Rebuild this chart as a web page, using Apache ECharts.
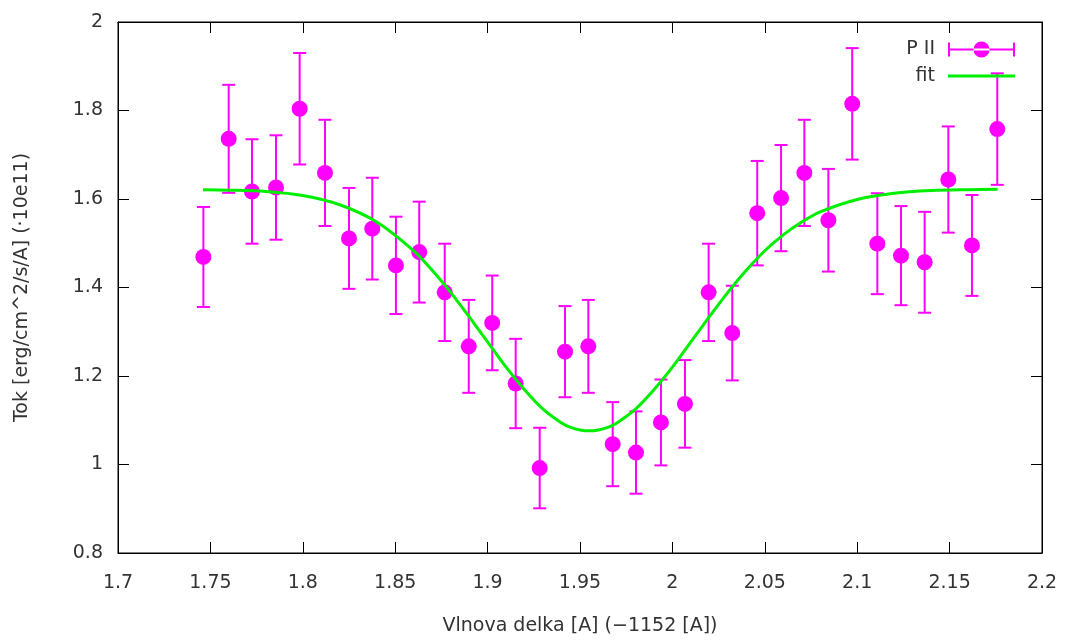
<!DOCTYPE html>
<html>
<head>
<meta charset="utf-8">
<script src="https://cdn.jsdelivr.net/npm/echarts@6/dist/echarts.min.js"></script>
<style>html,body{margin:0;padding:0;background:#fff}#chart{width:1067px;height:642px}</style>
</head>
<body>
<div id="chart"></div>
<script>
// Measured data (P II)
const xValues = [1.7462,1.7599,1.7725,1.7855,1.7983,1.8120,1.8250,1.8376,1.8504,1.8630,1.8768,1.8898,1.9025,1.9152,1.9282,1.9419,1.9545,1.9677,1.9803,1.9938,2.0068,2.0196,2.0324,2.0459,2.0588,2.0714,2.0844,2.0973,2.1109,2.1237,2.1365,2.1493,2.1621,2.1758];
const yValues = [1.469,1.736,1.617,1.626,1.804,1.659,1.511,1.533,1.450,1.480,1.389,1.267,1.320,1.183,0.992,1.255,1.267,1.046,1.027,1.095,1.137,1.389,1.297,1.568,1.602,1.659,1.552,1.815,1.499,1.472,1.457,1.644,1.495,1.758];
const yErrors = [0.113,0.122,0.118,0.118,0.126,0.120,0.114,0.115,0.110,0.114,0.110,0.105,0.107,0.101,0.091,0.103,0.105,0.095,0.093,0.097,0.099,0.110,0.107,0.118,0.120,0.120,0.116,0.126,0.114,0.112,0.114,0.120,0.114,0.126];
// Fit curve
const fitX = [1.746,1.76,1.78,1.80,1.82,1.84,1.86,1.87,1.88,1.89,1.90,1.91,1.92,1.93,1.94,1.945,1.95,1.955,1.96,1.965,1.97,1.98,1.99,2.00,2.01,2.02,2.03,2.04,2.05,2.06,2.07,2.08,2.10,2.12,2.14,2.16,2.176];
const fitY = [1.621,1.620,1.617,1.608,1.587,1.548,1.483,1.439,1.389,1.334,1.277,1.220,1.169,1.125,1.094,1.084,1.078,1.076,1.078,1.084,1.094,1.125,1.169,1.220,1.277,1.334,1.389,1.439,1.483,1.519,1.548,1.571,1.599,1.613,1.619,1.621,1.622];
const xTicks = {min:1.7, max:2.2, interval:0.05};
const yTicks = {min:0.8, max:2.0, interval:0.2};
const seriesNames = ['P II','fit'];

const FONT = 'DejaVu Sans';
const pointData = xValues.map((x,i)=>[x,yValues[i]]);
const errData = xValues.map((x,i)=>[x,yValues[i]-yErrors[i],yValues[i]+yErrors[i]]);
const fitData = fitX.map((x,i)=>[x,fitY[i]]);
const MAG = '#ff00ff', GRN = '#00ee00';
const fmt = v => String(parseFloat(v.toFixed(3)));

const chart = echarts.init(document.getElementById('chart'), null, {renderer:'canvas'});
const tickStyle = {show:true, inside:true, length:11, lineStyle:{color:'#000', width:1}};
chart.setOption({
  animation:false,
  backgroundColor:'#fff',
  grid:{left:118, right:25, top:22, bottom:89, show:true, borderColor:'#000', borderWidth:1,
        backgroundColor:'transparent', containLabel:false, outerBoundsMode:'none'},
  legend:{
    right:47, top:35, orient:'vertical', align:'right', itemGap:7,
    itemWidth:67, itemHeight:20,
    textStyle:{fontFamily:FONT, fontSize:19, color:'#333', padding:[0,8,0,0]},
    data:[
      {name:seriesNames[0], icon:'path://M0,9h67v2h-67z M0,3h2v14h-2z M65,3h2v14h-2z M25.5,10a8,8 0 1,0 16,0a8,8 0 1,0 -16,0z', itemStyle:{color:MAG}},
      {name:seriesNames[1], icon:'path://M0,8.5h67v3h-67z M0,0h0.01v20h-0.01z', itemStyle:{color:GRN}}
    ]
  },
  xAxis:[
    {type:'value', min:xTicks.min, max:xTicks.max, interval:xTicks.interval, position:'bottom',
     name:'Vlnova delka [A] (\u22121152 [A])', nameLocation:'middle', nameGap:64,
     nameTextStyle:{fontFamily:FONT, fontSize:19, color:'#333'},
     axisLine:{show:true, lineStyle:{color:'#000'}}, axisTick:tickStyle, splitLine:{show:false},
     axisLabel:{fontFamily:FONT, fontSize:19, color:'#333', margin:21, formatter:fmt}},
    {type:'value', min:xTicks.min, max:xTicks.max, interval:xTicks.interval, position:'top',
     axisLine:{show:true, lineStyle:{color:'#000'}}, axisTick:tickStyle, splitLine:{show:false}, axisLabel:{show:false}}
  ],
  yAxis:[
    {type:'value', min:yTicks.min, max:yTicks.max, interval:yTicks.interval, position:'left',
     name:'Tok [erg/cm^2/s/A] (\u00b710e11)', nameLocation:'middle', nameGap:86,
     nameTextStyle:{fontFamily:FONT, fontSize:19, color:'#333'},
     axisLine:{show:true, lineStyle:{color:'#000'}}, axisTick:tickStyle, splitLine:{show:false},
     axisLabel:{fontFamily:FONT, fontSize:19, color:'#333', margin:15, formatter:fmt}},
    {type:'value', min:yTicks.min, max:yTicks.max, interval:yTicks.interval, position:'right',
     axisLine:{show:true, lineStyle:{color:'#000'}}, axisTick:tickStyle, splitLine:{show:false}, axisLabel:{show:false}}
  ],
  series:[
    {name:seriesNames[0], type:'custom', xAxisIndex:0, yAxisIndex:0, data:errData, z:3,
     renderItem:(params, api)=>{
       const x = api.value(0);
       const lo = api.coord([x, api.value(1)]);
       const hi = api.coord([x, api.value(2)]);
       const hw = 6.5;
       const st = {stroke:MAG, lineWidth:2};
       return {type:'group', children:[
         {type:'line', shape:{x1:lo[0], y1:lo[1], x2:hi[0], y2:hi[1]}, style:st},
         {type:'line', shape:{x1:lo[0]-hw, y1:lo[1], x2:lo[0]+hw, y2:lo[1]}, style:st},
         {type:'line', shape:{x1:hi[0]-hw, y1:hi[1], x2:hi[0]+hw, y2:hi[1]}, style:st}
       ]};
     }},
    {name:seriesNames[0], type:'scatter', data:pointData, symbol:'circle', symbolSize:16,
     itemStyle:{color:MAG, opacity:1}, z:4},
    {name:seriesNames[1], type:'line', data:fitData, smooth:0.3, showSymbol:false, symbol:'none',
     lineStyle:{color:GRN, width:3}, itemStyle:{color:GRN}, z:5}
  ]
});
</script>
</body>
</html>
